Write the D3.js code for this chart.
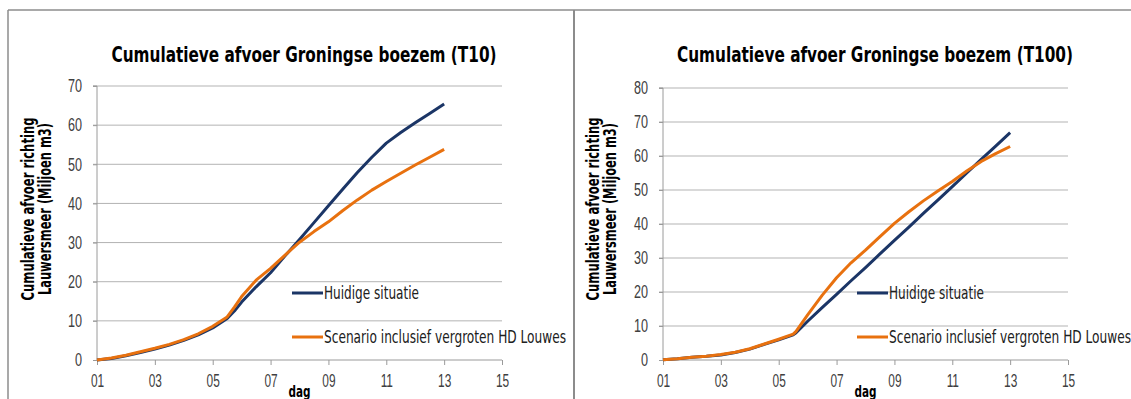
<!DOCTYPE html>
<html>
<head>
<meta charset="utf-8">
<script src="https://cdn.jsdelivr.net/npm/d3@7"></script>
<style>
  body { margin:0; background:#fff; }
  svg { display:block; font-family:"DejaVu Sans Condensed","DejaVu Sans",sans-serif; }
  .grid line { stroke:#b3b3b3; stroke-width:1; }
  .axis path, .axis line { stroke:#9a9a9a; stroke-width:1; }
  .axis text { fill:#404040; font-size:18px; }
</style>
</head>
<body>
<div id="chart"></div>
<script>
// Data
const seriesNames = ['Huidige situatie','Scenario inclusief vergroten HD Louwes'];
const xTicks = [1,3,5,7,9,11,13,15];

// T10
const daysT10 = [1,1.5,2,2.5,3,3.5,4,4.5,5,5.5,5.75,6,6.5,7,7.5,8,8.5,9,9.5,10,10.5,11,11.5,12,12.5,13];
const huidigT10 = [0,0.4,1.1,1.9,2.8,3.8,5.0,6.4,8.2,10.6,12.5,14.8,18.7,22.3,26.6,30.8,35.1,39.4,43.7,47.9,51.8,55.4,58.1,60.6,63.0,65.4];
const scenarioT10 = [0,0.5,1.2,2.1,3.0,4.0,5.2,6.7,8.6,11.0,13.5,16.2,20.4,23.4,26.8,30.1,32.8,35.3,38.2,40.9,43.4,45.6,47.7,49.8,51.8,53.8];

// T100
const daysT100 = [1,1.5,2,2.5,3,3.5,4,4.5,5,5.5,5.6,6,6.5,7,7.5,8,8.5,9,9.5,10,10.5,11,11.5,12,12.5,13];
const huidigT100 = [0.1,0.4,0.8,1.1,1.5,2.2,3.2,4.6,5.9,7.4,8.0,11.4,15.4,19.3,23.3,27.2,31.2,35.2,39.1,43.1,47.0,51.0,55.0,59.0,62.9,66.9];
const scenarioT100 = [0.1,0.4,0.8,1.1,1.6,2.3,3.3,4.7,6.1,7.6,8.4,13.3,19.0,24.2,28.6,32.3,36.3,40.2,43.6,46.8,49.7,52.5,55.6,58.4,60.7,62.8];

const colors = ['#1b3566','#e8710f'];

const width = 1131, height = 399;
const svg = d3.select('#chart').append('svg')
  .attr('width',width)
  .attr('height',height);

//squeeze text sideways, the reference font is very narrow
function squeeze(sel, k){
  sel.each(function(){
    const w = this.getComputedTextLength();
    d3.select(this).attr('textLength', w*k).attr('lengthAdjust','spacingAndGlyphs');
  });
}
function fitTo(sel, w){
  sel.attr('textLength', w).attr('lengthAdjust','spacingAndGlyphs');
}

//frame lines
svg.append('line').attr('x1',8).attr('x2',width).attr('y1',10).attr('y2',10)
  .style('stroke','#8c8c8c').style('stroke-width',1.5);
svg.append('line').attr('x1',8).attr('x2',8).attr('y1',10).attr('y2',height)
  .style('stroke','#8c8c8c').style('stroke-width',1.5);
svg.append('line').attr('x1',574).attr('x2',574).attr('y1',10).attr('y2',height)
  .style('stroke','#8c8c8c').style('stroke-width',2);

drawPanel({
  title:'Cumulatieve afvoer Groningse boezem (T10)', titleW:385,
  days:daysT10, series:[huidigT10,scenarioT10],
  x0:97, x1:502, yTop:86, yBottom:360, yMax:70,
  titleX:304, yTitleX:28, legendX:292
});

drawPanel({
  title:'Cumulatieve afvoer Groningse boezem (T100)', titleW:396,
  days:daysT100, series:[huidigT100,scenarioT100],
  x0:663, x1:1068, yTop:88, yBottom:360, yMax:80,
  titleX:875, yTitleX:593, legendX:857
});

function drawPanel(cfg){
  const g = svg.append('g');

  const scaleX = d3.scaleLinear().domain([1,15]).range([cfg.x0,cfg.x1]);
  const scaleY = d3.scaleLinear().domain([0,cfg.yMax]).range([cfg.yBottom,cfg.yTop]);
  const yTicks = d3.range(0,cfg.yMax+1,10);

  //gridlines
  g.append('g').attr('class','grid')
    .selectAll('line')
    .data(yTicks.filter(d => d > 0))
    .enter()
    .append('line')
    .attr('x1',cfg.x0 - 4).attr('x2',cfg.x1)
    .attr('y1',d => scaleY(d)).attr('y2',d => scaleY(d));

  //axes
  const axisY = d3.axisLeft(scaleY).tickValues(yTicks).tickSize(4).tickPadding(11).tickFormat(d3.format('d'));
  g.append('g').attr('class','axis axis-y')
    .attr('transform',`translate(${cfg.x0},0)`)
    .call(axisY)
    .call(s => s.select('.domain').attr('d',`M-4,${cfg.yTop}H0V${cfg.yBottom}`))
    .call(s => squeeze(s.selectAll('text'),0.7));

  const axisX = d3.axisBottom(scaleX).tickValues(xTicks).tickSize(5).tickPadding(9).tickFormat(d3.format('02d'));
  g.append('g').attr('class','axis axis-x')
    .attr('transform',`translate(0,${cfg.yBottom})`)
    .call(axisX)
    .call(s => s.select('.domain').attr('d',`M${cfg.x0},0H${cfg.x1}`))
    .call(s => squeeze(s.selectAll('text'),0.66));

  //lines
  const line = d3.line()
    .x((d,i) => scaleX(cfg.days[i]))
    .y(d => scaleY(d));

  cfg.series.forEach((vals,k) => {
    g.append('path')
      .datum(vals)
      .attr('d',line)
      .style('fill','none')
      .style('stroke',colors[k])
      .style('stroke-width',3)
      .style('stroke-linejoin','round');
  });

  //title
  g.append('text')
    .attr('x',cfg.titleX).attr('y',62)
    .attr('text-anchor','middle')
    .style('font-size','22px').style('font-weight','bold').style('fill','#000')
    .text(cfg.title)
    .call(fitTo,cfg.titleW);

  //y title, two lines
  const yTitle = [['Cumulatieve afvoer richting',183,0],['Lauwersmeer (Miljoen m3)',172,17]];
  yTitle.forEach(t => {
    g.append('text')
      .attr('transform',`translate(${cfg.yTitleX + t[2] + 6},209) rotate(-90)`)
      .attr('text-anchor','middle')
      .style('font-size','17px').style('font-weight','bold').style('fill','#000')
      .text(t[0])
      .call(fitTo,t[1]);
  });

  //x title
  g.append('text')
    .attr('x',(cfg.x0+cfg.x1)/2).attr('y',397)
    .attr('text-anchor','middle')
    .style('font-size','16px').style('font-weight','bold').style('fill','#000')
    .text('dag')
    .call(fitTo,22);

  //legend
  const legendY = [293,337];
  const legendW = [95,242];
  seriesNames.forEach((name,k) => {
    g.append('line')
      .attr('x1',cfg.legendX).attr('x2',cfg.legendX+31)
      .attr('y1',legendY[k]).attr('y2',legendY[k])
      .style('stroke',colors[k]).style('stroke-width',3);
    g.append('text')
      .attr('x',cfg.legendX+32).attr('y',legendY[k]+6)
      .style('font-size','17px').style('fill','#202020')
      .text(name)
      .call(fitTo,legendW[k]);
  });
}
</script>
</body>
</html>
